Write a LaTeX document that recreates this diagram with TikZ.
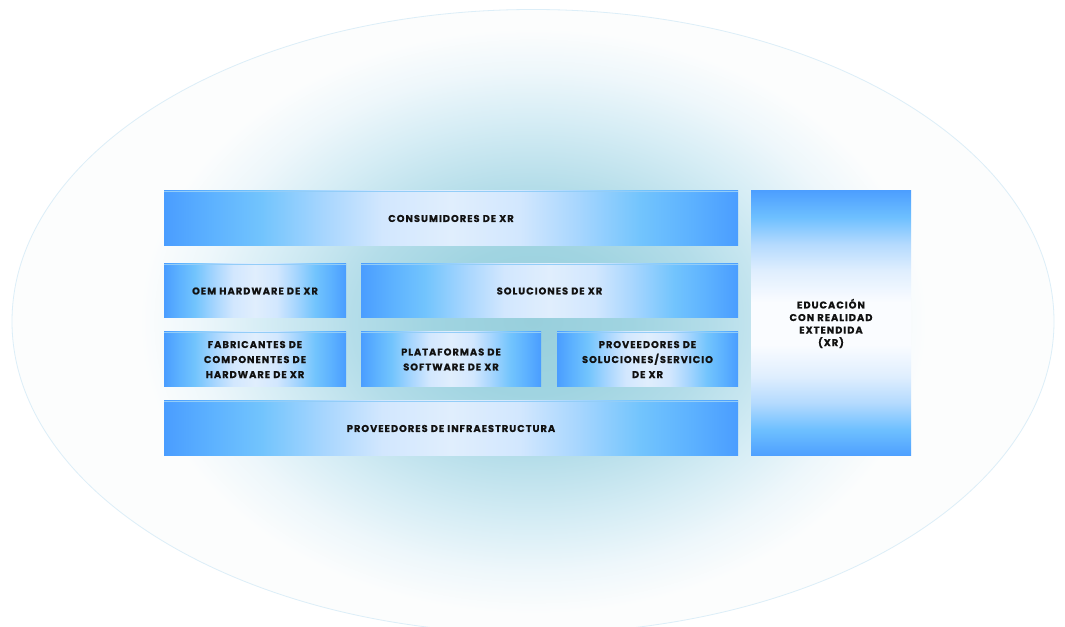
\documentclass[tikz,border=0pt]{standalone}
\usepackage{fontspec}
\setmainfont{Poppins}[LetterSpace=10, BoldFeatures={FakeBold=0.5}]
\usetikzlibrary{shadings}

% palette
\definecolor{haloCore}{HTML}{98CFDC}
\definecolor{haloMid}{HTML}{A0D4E1}
\definecolor{haloSoft}{HTML}{B4DDE9}
\definecolor{haloPale}{HTML}{D6EDF5}
\definecolor{haloFaint}{HTML}{EEF7FB}
\definecolor{paper}{HTML}{FCFDFD}
\definecolor{rim}{HTML}{DCEEF8}
\definecolor{bEdge}{HTML}{4A9DFF}
\definecolor{bMid}{HTML}{5CB1FF}
\definecolor{bSky}{HTML}{72C4FD}
\definecolor{bPale}{HTML}{A8D6FE}
\definecolor{bLight}{HTML}{D2E7FE}
\definecolor{bCore}{HTML}{E0EEFD}
\definecolor{vEdge}{HTML}{4D9FFF}
\definecolor{vSky}{HTML}{6EC0FF}
\definecolor{vPale}{HTML}{B4DAFE}
\definecolor{vLight}{HTML}{DFEEFE}
\definecolor{vCore}{HTML}{FAFCFF}
\definecolor{topRule}{HTML}{93CDF8}
\definecolor{ink}{HTML}{111111}

% soft teal glow in the middle of the ellipse
\pgfdeclareradialshading{halo}{\pgfpoint{0bp}{0bp}}{%
  color(0bp)=(haloCore); color(6bp)=(haloMid); color(11bp)=(haloSoft);
  color(16.5bp)=(haloPale); color(20.5bp)=(haloFaint); color(24bp)=(paper);
  color(50bp)=(paper)}

% blue edges, pale centre, left to right
\pgfdeclarehorizontalshading{barshade}{100bp}{%
  color(0bp)=(bEdge); color(25bp)=(bEdge); color(29bp)=(bMid);
  color(33.5bp)=(bSky); color(39bp)=(bPale); color(44bp)=(bLight);
  color(50bp)=(bCore); color(56bp)=(bLight); color(61bp)=(bPale);
  color(66.5bp)=(bSky); color(71bp)=(bMid); color(75bp)=(bEdge);
  color(100bp)=(bEdge)}

% blue ends, almost white centre, top to bottom
\pgfdeclareverticalshading{colshade}{100bp}{%
  color(0bp)=(vEdge); color(25bp)=(vEdge); color(30bp)=(vSky);
  color(35bp)=(vPale); color(40bp)=(vLight); color(46bp)=(vCore);
  color(54bp)=(vCore); color(60bp)=(vLight); color(65bp)=(vPale);
  color(70bp)=(vSky); color(75bp)=(vEdge); color(100bp)=(vEdge)}

\tikzset{
  layer/.style={shading=barshade, inner sep=0pt, outer sep=0pt,
    anchor=north west, align=center, text=ink,
    font=\bfseries\fontsize{7.4}{11.25}\selectfont},
  pillar/.style={shading=colshade, inner sep=0pt, outer sep=0pt,
    anchor=north west, align=center, text=ink,
    font=\bfseries\fontsize{7.4}{9.4}\selectfont},
  rule/.style={draw=topRule, line width=0.75pt}
}

\begin{document}
\begin{tikzpicture}[x=0.75pt,y=-0.75pt]
  \useasboundingbox (0,0) rectangle (1065,627);
  \fill[white] (0,0) rectangle (1065,627);
  \begin{scope}
    \clip (0,0) rectangle (1065,627);
    \fill[paper] (533,321.5) ellipse [x radius=521, y radius=312];
    \shade[shading=halo] (533,321) ellipse [x radius=410, y radius=305];
    \draw[rim, line width=0.6pt] (533,321.5) ellipse [x radius=521, y radius=312];
  \end{scope}

  \node[layer, minimum width=430.5pt, minimum height=41.25pt] (cons) at (164,191) {CONSUMIDORES DE XR};
  \node[layer, minimum width=136.5pt, minimum height=40.5pt] (oem) at (164,264) {OEM HARDWARE DE XR};
  \node[layer, minimum width=282.75pt, minimum height=40.5pt] (sol) at (361,264) {SOLUCIONES DE XR};
  \node[layer, minimum width=136.5pt, minimum height=41.25pt] (fab) at (164,332) {FABRICANTES DE\\COMPONENTES DE\\HARDWARE DE XR};
  \node[layer, minimum width=135pt, minimum height=41.25pt] (plat) at (361,332) {PLATAFORMAS DE\\SOFTWARE DE XR};
  \node[layer, minimum width=135.75pt, minimum height=41.25pt] (prov) at (557,332) {PROVEEDORES DE\\SOLUCIONES/SERVICIO\\DE XR};
  \node[layer, minimum width=430.5pt, minimum height=41.25pt] (infra) at (164,401) {PROVEEDORES DE INFRAESTRUCTURA};
  \node[pillar, minimum width=120pt, minimum height=198.75pt] (edu) at (751,191) {EDUCACIÓN\\CON REALIDAD\\EXTENDIDA\\(XR)};

  \foreach \b in {cons,oem,sol,fab,plat,prov,infra}
    \draw[rule] ([yshift=-0.375pt]\b.north west) -- ([yshift=-0.375pt]\b.north east);
\end{tikzpicture}
\end{document}
